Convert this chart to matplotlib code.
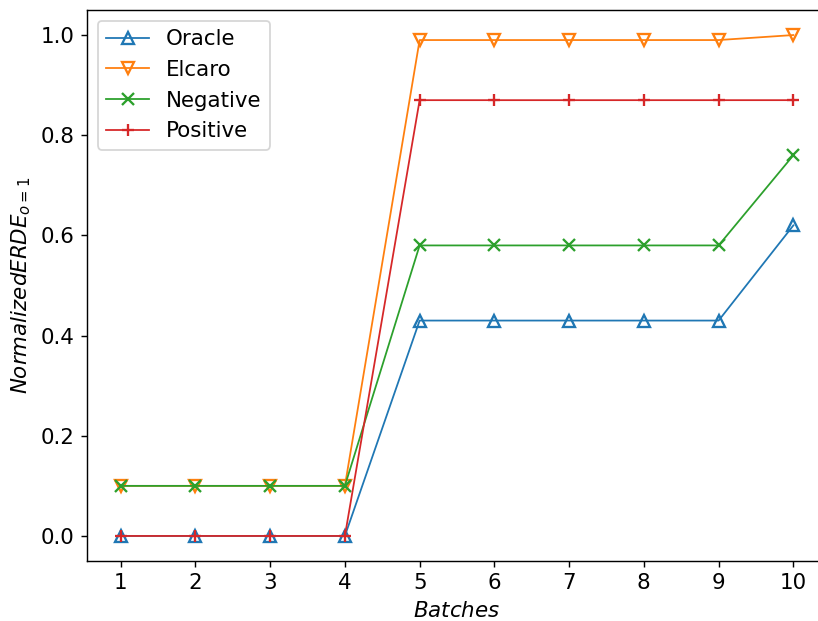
import matplotlib
matplotlib.use("Agg")
import matplotlib.pyplot as plt

batches = [1, 2, 3, 4, 5, 6, 7, 8, 9, 10]
oracle = [0.0, 0.0, 0.0, 0.0, 0.43, 0.43, 0.43, 0.43, 0.43, 0.62]
elcaro = [0.1, 0.1, 0.1, 0.1, 0.99, 0.99, 0.99, 0.99, 0.99, 1.0]
negative = [0.1, 0.1, 0.1, 0.1, 0.58, 0.58, 0.58, 0.58, 0.58, 0.76]
positive = [0.0, 0.0, 0.0, 0.0, 0.87, 0.87, 0.87, 0.87, 0.87, 0.87]

plt.rcParams["font.size"] = 12

fig = plt.figure(figsize=(818 / 128, 621 / 128), dpi=128)
ax = fig.add_axes([87 / 818, 1 - 561 / 621, (827 - 87) / 818, (561 - 10) / 621])

kw = dict(linewidth=1, markeredgewidth=1.3, markersize=6.5)
ax.plot(batches, oracle, marker="^", fillstyle="none", label="Oracle", **kw)
ax.plot(batches, elcaro, marker="v", fillstyle="none", label="Elcaro", **kw)
ax.plot(batches, negative, marker="x", label="Negative", **kw)
ax.plot(batches, positive, marker="+", label="Positive", **kw)

ax.set_xticks(batches)
ax.set_xlabel("$Batches$")
ax.set_ylabel("$Normalized ERDE_{o=1}$")
ax.legend(loc="upper left")

fig.savefig("out.png", dpi=128)
